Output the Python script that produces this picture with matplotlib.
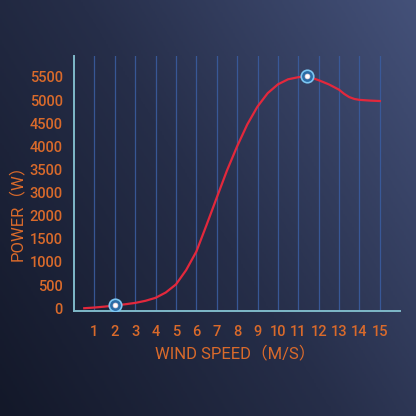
import numpy as np
import matplotlib
matplotlib.use("Agg")
import matplotlib.pyplot as plt
from matplotlib.colors import LinearSegmentedColormap

# данные кривой мощности (скорость ветра, м/с -> мощность, Вт)
wind_speed = [0.5, 1, 1.5, 2, 2.5, 3, 3.5, 4, 4.5, 5, 5.5, 6, 6.5, 7, 7.5, 8,
              8.5, 9, 9.5, 10, 10.5, 11, 11.45, 12, 12.5, 13, 13.25, 13.5, 13.75,
              14, 14.5, 15]
power = [0, 15, 35, 60, 85, 115, 160, 225, 340, 515, 825, 1225, 1800, 2780, 3475, 4000,
         4475, 4860, 5150, 5340, 5450, 5495, 5515, 5430, 5340, 5225, 5135, 5065, 5025,
         5005, 4990, 4980]

# отмеченные точки
marker_speed = [2, 11.45]
marker_power = [60, 5515]

x_ticks = list(range(1, 16))
# подписи оси Y идут через равные промежутки (2500 пропущено на исходнике)
y_tick_values = [0, 500, 1000, 1500, 2000, 3000, 3500, 4000, 4500, 5000, 5500]

orange = "#d96a2b"
spine_color = "#7fb9c9"
grid_color = "#3a5c9e"
red = "#e3283c"

plt.rcParams['font.family'] = ['Roboto', 'Noto Sans CJK SC', 'DejaVu Sans']
plt.rcParams['font.weight'] = 'medium'

slots = np.arange(len(y_tick_values), dtype=float)
vals = np.array(y_tick_values, dtype=float)


def fwd(v):
    v = np.asarray(v, dtype=float)
    s = np.interp(v, vals, slots)
    s = np.where(v < vals[0], v / 500.0, s)
    s = np.where(v > vals[-1], slots[-1] + (v - vals[-1]) / 500.0, s)
    return s


def inv(s):
    s = np.asarray(s, dtype=float)
    v = np.interp(s, slots, vals)
    v = np.where(s < 0, s * 500.0, v)
    v = np.where(s > slots[-1], vals[-1] + (s - slots[-1]) * 500.0, v)
    return v


fig = plt.figure(figsize=(4.16, 4.16), dpi=100)

# фон с градиентом
bg = fig.add_axes([0, 0, 1, 1], zorder=-1)
u, w = np.meshgrid(np.linspace(0, 1, 200), np.linspace(1, 0, 200))
t = 0.62 * u + 0.38 * w
cmap = LinearSegmentedColormap.from_list("bg", ["#131829", "#262e49", "#445179"])
bg.imshow(t, cmap=cmap, aspect="auto", extent=[0, 1, 0, 1], vmin=0, vmax=1)
bg.axis("off")

ax = fig.add_axes([0.178, 0.2524, 0.784, 0.6126])
ax.set_facecolor("none")
ax.set_yscale("function", functions=(fwd, inv))

for xv in x_ticks:
    ax.axvline(xv, color=grid_color, lw=0.9, alpha=0.9, zorder=1)

ax.plot(wind_speed, power, color=red, lw=1.6, zorder=3, solid_joinstyle="round")
ax.plot(marker_speed, marker_power, 'o', ms=9, mfc="#2b6ca6", mec="#7cc6f2",
        mew=1.2, zorder=4)
ax.plot(marker_speed, marker_power, 'o', ms=3.5, mfc="white", mec="#f4d6dc",
        mew=0.5, zorder=5)

ax.set_xlim(0, 16)
ax.set_ylim(-60, 5950)
ax.set_xticks(x_ticks)
ax.set_yticks(y_tick_values)
ax.set_yticklabels([str(v) for v in y_tick_values])
ax.minorticks_off()
ax.tick_params(axis='both', length=0, colors=orange, labelsize=10.5)
ax.tick_params(axis='x', pad=10)
ax.tick_params(axis='y', pad=8)

for side in ["top", "right"]:
    ax.spines[side].set_visible(False)
for side in ["left", "bottom"]:
    ax.spines[side].set_color(spine_color)
    ax.spines[side].set_linewidth(1.4)

ax.set_xlabel("WIND SPEED（M/S）", color=orange, fontsize=12)
ax.set_ylabel("POWER（W）", color=orange, fontsize=12)
ax.xaxis.set_label_coords(0.493, -0.135)
ax.yaxis.set_label_coords(-0.15, 0.40)

fig.savefig("out.png", dpi=100)
